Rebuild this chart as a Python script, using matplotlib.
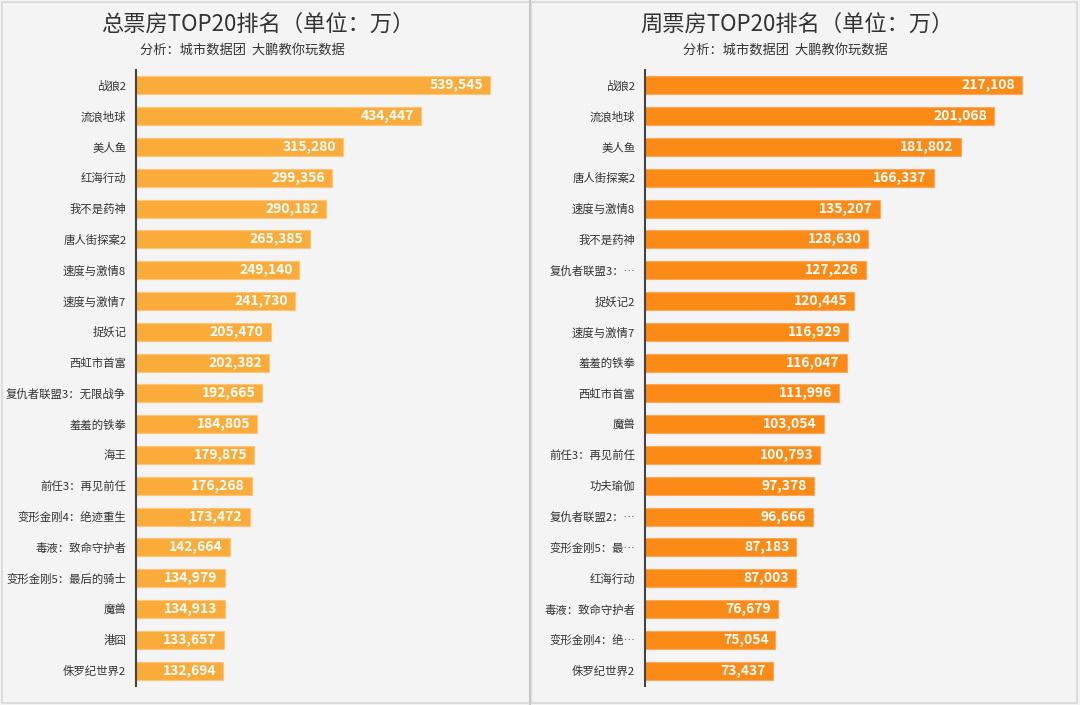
import matplotlib
matplotlib.use("Agg")
import matplotlib.pyplot as plt
from matplotlib.patches import Rectangle
from matplotlib.lines import Line2D

plt.rcParams["font.family"] = ["Noto Sans CJK SC", "DejaVu Sans"]

# ----- data -----
total_names = [
    "战狼2", "流浪地球", "美人鱼", "红海行动", "我不是药神", "唐人街探案2",
    "速度与激情8", "速度与激情7", "捉妖记", "西虹市首富", "复仇者联盟3：无限战争",
    "羞羞的铁拳", "海王", "前任3：再见前任", "变形金刚4：绝迹重生",
    "毒液：致命守护者", "变形金刚5：最后的骑士", "魔兽", "港囧", "侏罗纪世界2",
]
total_values = [
    539545, 434447, 315280, 299356, 290182, 265385, 249140, 241730, 205470, 202382,
    192665, 184805, 179875, 176268, 173472, 142664, 134979, 134913, 133657, 132694,
]

week_names = [
    "战狼2", "流浪地球", "美人鱼", "唐人街探案2", "速度与激情8", "我不是药神",
    "复仇者联盟3：…", "捉妖记2", "速度与激情7", "羞羞的铁拳", "西虹市首富", "魔兽",
    "前任3：再见前任", "功夫瑜伽", "复仇者联盟2：…", "变形金刚5：最…", "红海行动",
    "毒液：致命守护者", "变形金刚4：绝…", "侏罗纪世界2",
]
week_values = [
    217108, 201068, 181802, 166337, 135207, 128630, 127226, 120445, 116929, 116047,
    111996, 103054, 100793, 97378, 96666, 87183, 87003, 76679, 75054, 73437,
]

W, H = 1080, 705
fig = plt.figure(figsize=(W / 100, H / 100), dpi=100)
fig.patch.set_facecolor("#f3f3f3")

# panel frames
fig.add_artist(Rectangle((2 / W, 2 / H), 528 / W, (H - 4) / H, transform=fig.transFigure,
                         facecolor="#f4f4f4", edgecolor="#d8d8d8", lw=1.2, zorder=0))
fig.add_artist(Rectangle((531 / W, 2 / H), 546 / W, (H - 4) / H, transform=fig.transFigure,
                         facecolor="#f4f4f4", edgecolor="#d8d8d8", lw=1.2, zorder=0))
fig.add_artist(Line2D([530 / W, 530 / W], [0, 1], transform=fig.transFigure,
                      color="#c8c8c8", lw=1.5))


def panel(x0, x1, names, values, xmax, color, edge, title, tx, sx):
    ax = fig.add_axes([x0 / W, 1 - 686 / H, (x1 - x0) / W, 616 / H])
    ax.set_facecolor("none")
    ypos = list(range(len(names)))
    ax.barh(ypos, values, height=0.58, color=color, edgecolor=edge, linewidth=0.8)
    for y, v in zip(ypos, values):
        ax.annotate(f"{v:,}", (v, y), xytext=(-5, 0), textcoords="offset points",
                    ha="right", va="center", color="white", fontsize=10,
                    fontweight="semibold")
    ax.set_ylim(len(names) - 0.5, -0.5)
    ax.set_xlim(0, xmax)
    ax.set_yticks(ypos)
    ax.set_yticklabels(names, fontsize=8.2, color="#333333")
    ax.tick_params(axis="y", length=0, pad=7)
    ax.set_xticks([])
    for s in ["top", "right", "bottom"]:
        ax.spines[s].set_visible(False)
    ax.spines["left"].set_color("#444444")
    ax.spines["left"].set_linewidth(1.5)
    fig.text(tx / W, 1 - 24 / H, title, ha="center", va="center",
             fontsize=16, fontweight="medium", color="#333333")
    fig.text(sx / W, 1 - 50 / H, "分析：城市数据团  大鹏教你玩数据", ha="center",
             va="center", fontsize=9.5, color="#333333")
    return ax


panel(136, 520, total_names, total_values, 585300, "#fbab3a", "#fdc57a",
      "总票房TOP20排名（单位：万）", 258, 242)
panel(645, 1060, week_names, week_values, 239000, "#fb8a16", "#fda85a",
      "周票房TOP20排名（单位：万）", 797, 785)

fig.savefig("out.png", dpi=100, facecolor=fig.get_facecolor())
